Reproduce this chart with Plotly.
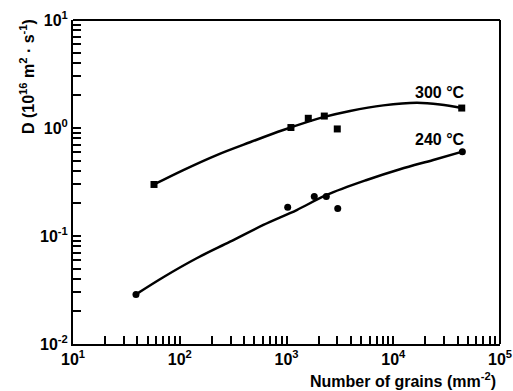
import plotly.graph_objects as go

# Measured points
grains_300 = [57.4, 1100, 1600, 2260, 2990, 43800]
D_300 = [0.30, 1.01, 1.23, 1.29, 0.98, 1.53]
grains_240 = [38.9, 1026, 1820, 2360, 3020, 44400]
D_240 = [0.0288, 0.185, 0.232, 0.232, 0.180, 0.604]

# Fitted curves
fit_x_300 = [57.4, 108, 222, 455, 933, 2210, 3940, 8070, 16600, 27400, 43800]
fit_y_300 = [0.30, 0.408, 0.562, 0.738, 0.958, 1.26, 1.44, 1.62, 1.71, 1.65, 1.53]
fit_x_240 = [38.9, 70.1, 144, 296, 607, 1247, 2380, 5640, 11560, 23700, 44400]
fit_y_240 = [0.0288, 0.0415, 0.0622, 0.0885, 0.1265, 0.174, 0.240, 0.330, 0.415, 0.506, 0.604]

x_major = [10, 100, 1000, 10000, 100000]
x_labels = ["10<sup>1</sup>", "10<sup>2</sup>", "10<sup>3</sup>", "10<sup>4</sup>", "10<sup>5</sup>"]
y_major = [0.01, 0.1, 1, 10]
y_labels = ["10<sup>-2</sup>", "10<sup>-1</sup>", "10<sup>0</sup>", "10<sup>1</sup>"]
minor_digits = [2, 3, 4, 5, 6, 7, 8, 9]

x_minor = [d * 10 ** e for e in range(1, 5) for d in minor_digits]
y_minor = [d * 10.0 ** e for e in range(-2, 1) for d in minor_digits]

FONT = "Liberation Sans, Arial, sans-serif"

fig = go.Figure()
for fx, fy in ((fit_x_300, fit_y_300), (fit_x_240, fit_y_240)):
    fig.add_trace(go.Scatter(x=fx, y=fy, mode="lines",
                             line=dict(color="black", width=2.5, shape="spline", smoothing=1.0),
                             showlegend=False, hoverinfo="skip"))
fig.add_trace(go.Scatter(x=grains_300, y=D_300, mode="markers",
                         marker=dict(symbol="square", size=7, color="black"), showlegend=False))
fig.add_trace(go.Scatter(x=grains_240, y=D_240, mode="markers",
                         marker=dict(symbol="circle", size=7, color="black"), showlegend=False))

axis_common = dict(
    showgrid=False, zeroline=False, showline=True, linecolor="black", linewidth=2,
    ticks="inside", ticklen=8, tickwidth=2, tickcolor="black",
    tickmode="array",
    tickfont=dict(family=FONT, size=16, color="black", weight="bold"),
)

fig.update_xaxes(type="log", range=[1, 5],
                 tickvals=x_major + x_minor, ticktext=x_labels + [""] * len(x_minor),
                 **axis_common)
fig.update_yaxes(type="log", range=[-2, 1],
                 tickvals=y_major + y_minor, ticktext=y_labels + [""] * len(y_minor),
                 **axis_common)

bold16 = dict(family=FONT, size=16, color="black", weight="bold")

fig.update_layout(
    width=513, height=391,
    margin=dict(l=73, r=13, t=20, b=47, autoexpand=False),
    paper_bgcolor="white", plot_bgcolor="white",
    font=dict(family=FONT, color="black"),
    shapes=[
        dict(type="line", xref="paper", yref="paper", x0=0, x1=1, y0=1, y1=1,
             line=dict(color="black", width=2)),
        dict(type="line", xref="paper", yref="paper", x0=1, x1=1, y0=0, y1=1,
             line=dict(color="black", width=2)),
    ],
    annotations=[
        dict(text="300 °C", x=4.438, y=0.327, xref="x", yref="y", showarrow=False, font=bold16),
        dict(text="240 °C", x=4.438, y=-0.111, xref="x", yref="y", showarrow=False, font=bold16),
        dict(text="D (10<sup>16</sup> m<sup>2</sup> · s<sup>-1</sup>)", x=-0.1077, y=0.824,
             xref="paper", yref="paper", showarrow=False, textangle=-90,
             xanchor="center", yanchor="middle", font=bold16),
        dict(text="Number of grains (mm<sup>-2</sup>)", x=0.995, y=-0.111,
             xref="paper", yref="paper", showarrow=False, xanchor="right", yanchor="middle",
             font=bold16),
    ],
)

fig.write_html("out.html", config={"displayModeBar": False},
               post_script="document.body.style.margin='0';document.body.style.overflow='hidden';")
